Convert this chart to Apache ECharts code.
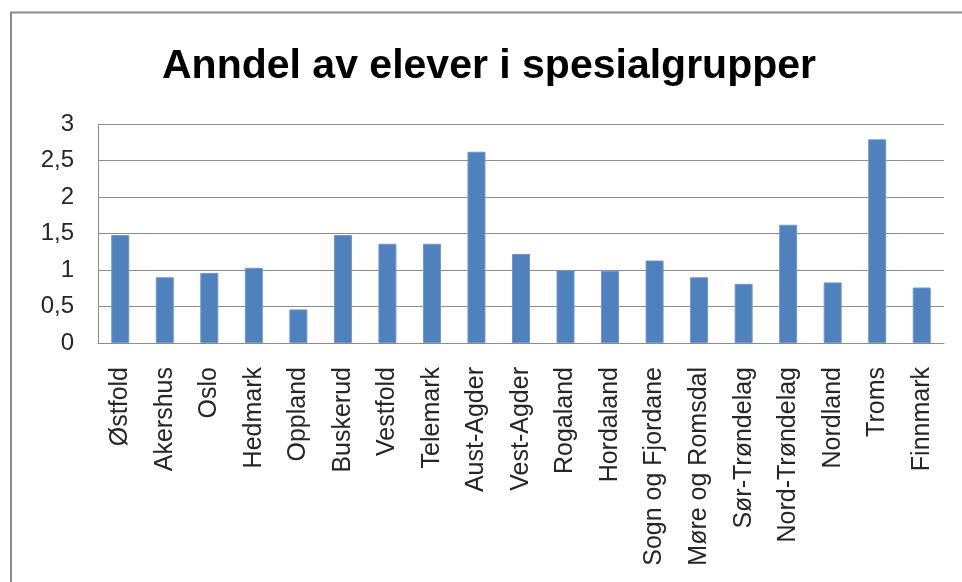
<!DOCTYPE html>
<html>
<head>
<meta charset="utf-8">
<script src="https://cdn.jsdelivr.net/npm/echarts@6/dist/echarts.min.js"></script>
<style>
html,body{margin:0;padding:0;background:#fff;}
#chart{width:962px;height:582px;}
</style>
</head>
<body>
<div id="chart"></div>
<script>
// fylker og andel elever i spesialgrupper (lest av bildet)
var fylker = ['Østfold','Akershus','Oslo','Hedmark','Oppland','Buskerud','Vestfold','Telemark','Aust-Agder','Vest-Agder',
    'Rogaland','Hordaland','Sogn og Fjordane','Møre og Romsdal','Sør-Trøndelag','Nord-Trøndelag','Nordland','Troms','Finnmark'];
var andel = [1.48,0.90,0.96,1.03,0.46,1.48,1.36,1.36,2.62,1.22,1.00,0.99,1.13,0.90,0.81,1.62,0.83,2.79,0.76];
var tittel = 'Anndel av elever i spesialgrupper';

var font = '"Liberation Sans", Arial, sans-serif';

var chart = echarts.init(document.getElementById('chart'));
var option = {
    animation: false,
    title: {
        text: tittel,
        left: 489,
        top: 46,
        padding: 0,
        textAlign: 'center',
        textStyle: {fontFamily: font, fontWeight: 'bold', fontSize: 41, color: '#000'}
    },
    graphic: [{
        type: 'rect',
        shape: {x: 11, y: 12.5, width: 1000, height: 600},
        style: {fill: 'none', stroke: '#8a8a8a', lineWidth: 2},
        silent: true
    }],
    grid: {left: 98, right: 18, top: 124, bottom: 239},
    xAxis: {
        type: 'category',
        data: fylker,
        axisLine: {lineStyle: {color: '#8c8c8c', width: 1}},
        axisTick: {show: false},
        axisLabel: {
            interval: 0,
            rotate: 90,
            margin: 24,
            fontFamily: font,
            fontSize: 25,
            color: '#262626'
        }
    },
    yAxis: {
        type: 'value',
        min: 0,
        max: 3,
        interval: 0.5,
        axisLine: {show: true, lineStyle: {color: '#8c8c8c', width: 1}},
        axisTick: {show: false},
        splitLine: {lineStyle: {color: '#8c8c8c', width: 1}},
        axisLabel: {
            margin: 24,
            fontFamily: font,
            fontSize: 24,
            color: '#262626',
            formatter: function(v){ return String(v).replace('.', ','); }
        }
    },
    series: [{
        type: 'bar',
        data: andel,
        barWidth: 18,
        itemStyle: {color: '#4F81BD', borderColor: '#7396c8', borderWidth: 1}
    }]
};
chart.setOption(option);
</script>
</body>
</html>
